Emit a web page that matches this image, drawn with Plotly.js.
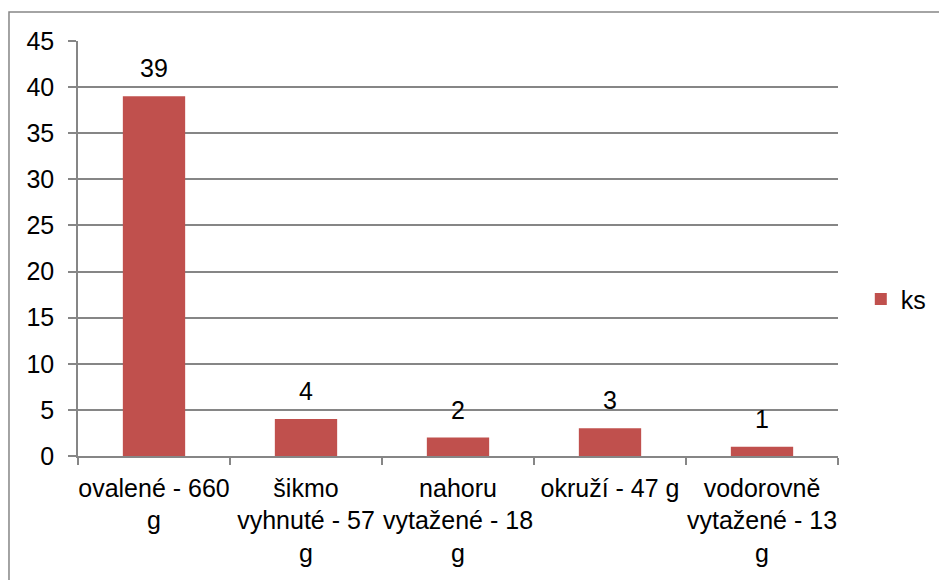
<!DOCTYPE html>
<html>
<head>
<meta charset="utf-8">
<script src="https://cdn.plot.ly/plotly-3.0.1.min.js"></script>
<style>
  body { margin: 0; background: #fff; }
  #plot { width: 939px; height: 580px; }
</style>
</head>
<body>
<div id="plot"></div>
<script>
// Categories and values
let categories = ["ovalené - 660 g", "šikmo vyhnuté - 57 g", "nahoru vytažené - 18 g", "okruží - 47 g", "vodorovně vytažené - 13 g"]
let tickLabels = ["ovalené - 660<br>g", "šikmo<br>vyhnuté - 57<br>g", "nahoru<br>vytažené - 18<br>g", "okruží - 47 g", "vodorovně<br>vytažené - 13<br>g"]
let values = [39, 4, 2, 3, 1]

let gridColor = "#868686"
let textFont = { family: "Liberation Sans, Arial, sans-serif", size: 25, color: "#000" }

// Bar trace
let trace1 = {
  x: categories,
  y: values,
  name: "ks",
  type: "bar",
  marker: { color: "#C0504D" },
  hoverinfo: "x+y"
};

// Value labels above bars
let labels = categories.map((c, i) => ({
  x: c,
  y: values[i],
  text: String(values[i]),
  showarrow: false,
  yanchor: "bottom",
  yshift: 12,
  font: textFont
}));

let layout = {
  width: 939,
  height: 580,
  margin: { l: 78, r: 101, t: 41, b: 124, autoexpand: false },
  paper_bgcolor: "#fff",
  plot_bgcolor: "#fff",
  font: textFont,
  bargap: 0.59,
  showlegend: true,
  legend: {
    x: 1.03, xanchor: "left",
    y: 0.378, yanchor: "middle",
    font: textFont,
    bgcolor: "rgba(0,0,0,0)"
  },
  xaxis: {
    type: "category",
    tickvals: categories,
    ticktext: tickLabels,
    tickangle: 0,
    tickson: "boundaries",
    ticks: "outside",
    ticklen: 7,
    tickwidth: 1.5,
    tickcolor: gridColor,
    showline: true,
    linecolor: gridColor,
    linewidth: 1.5,
    showgrid: false,
    tickfont: textFont,
    ticklabelstandoff: 9
  },
  yaxis: {
    range: [0, 45],
    dtick: 5,
    ticks: "outside",
    ticklen: 8,
    tickwidth: 1.5,
    tickcolor: gridColor,
    showline: true,
    linecolor: gridColor,
    linewidth: 1.5,
    showgrid: true,
    gridcolor: gridColor,
    gridwidth: 1.5,
    zeroline: false,
    tickfont: textFont,
    ticklabelstandoff: 9
  },
  annotations: labels,
  shapes: [{
    type: "rect",
    xref: "paper", yref: "paper",
    x0: -0.0908, x1: 1.3,
    y0: -0.5, y1: 1.0699,
    line: { color: gridColor, width: 1.5 },
    layer: "below"
  }]
};

Plotly.newPlot("plot", [trace1], layout, { displayModeBar: false });
</script>
</body>
</html>
